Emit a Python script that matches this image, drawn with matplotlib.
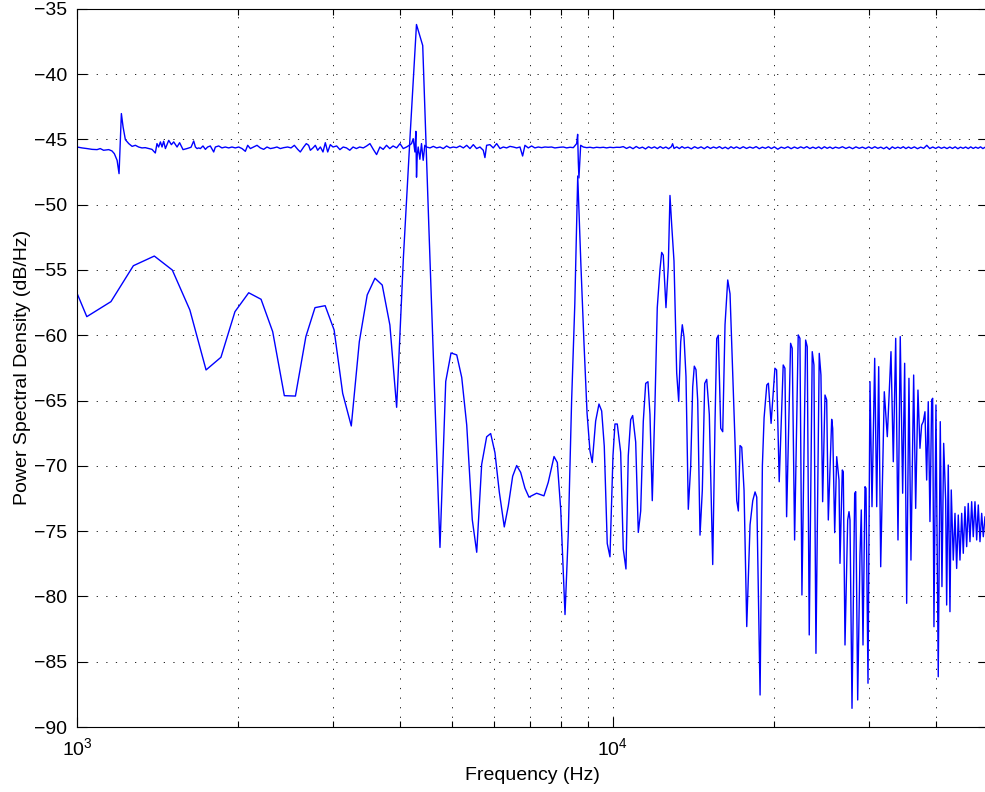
"""
PSD of test tone vs. noise floor, log frequency axis
Values read off the original figure
"""

import numpy as np
from matplotlib import pyplot as plt
from matplotlib.ticker import LogLocator, MultipleLocator, NullFormatter

# Tone spectrum (coarse FFT bins), Hz and dB/Hz
tone_freq_low = [
    926, 1043, 1157, 1274, 1394, 1506, 1624, 1741, 1856, 1971,
    2091, 2205, 2318, 2437, 2556, 2673, 2780, 2904, 3018, 3131,
    3249, 3363, 3479, 3597, 3711, 3835, 3948, 4065, 4182, 4299,
    4416, 4533, 4650, 4756, 4875, 4987, 5111, 5222, 5335, 5464,
    5569, 5689, 5812, 5913, 6023, 6136, 6269, 6378, 6499, 6612,
    6726, 6851, 6970, 7204, 7434, 7573, 7763, 7874, 7990, 8138,
    8254, 8371, 8488, 8595, 8712, 8829, 8946, 9058, 9148, 9283,
    9416, 9526, 9633, 9757, 9872,
]
tone_db_low = [
    -53.5, -58.58, -57.43, -54.68, -53.94, -55.01, -58.07, -62.66, -61.69, -58.20,
    -56.75, -57.25, -59.73, -64.63, -64.66, -60.11, -57.89, -57.74, -59.60, -64.45,
    -66.95, -60.50, -56.92, -55.64, -56.16, -59.22, -65.52, -54.0, -44.8, -36.21,
    -37.82, -51.6, -64.7, -76.25, -63.54, -61.36, -61.51, -63.24, -66.88, -74.13,
    -76.62, -69.89, -67.78, -67.53, -69.00, -72.00, -74.68, -73.08, -70.80, -69.98,
    -70.50, -71.71, -72.40, -72.10, -72.30, -71.26, -69.29, -69.75, -73.38, -81.39,
    -75.1, -65.1, -57.6, -47.81, -54.57, -60.6, -65.96, -68.84, -69.75, -66.57,
    -65.27, -65.80, -68.50, -75.95, -76.97,
]

tone_freq_mid = [
    10000, 10086, 10186, 10336, 10452, 10574, 10679, 10790, 10883, 11025,
    11149, 11265, 11391, 11509, 11622, 11723, 11839, 11977, 12096, 12237,
    12327, 12412, 12557, 12682, 12775, 12869, 12997, 13149, 13262, 13377,
    13469, 13568, 13685, 13821, 13964, 14085, 14182, 14286, 14391, 14534,
    14679, 14831, 14959, 15127, 15350, 15503, 15616, 15724, 15887, 16024,
    16183, 16372, 16535, 16728, 16894, 17018, 17136, 17261, 17388, 17561,
    17766, 18020, 18231, 18412, 18547, 18813, 19000, 19140, 19364, 19497,
    19725,
]
tone_db_mid = [
    -69.24, -66.80, -66.80, -68.97, -76.37, -77.90, -69.24, -66.47, -66.15, -68.18,
    -75.10, -73.46, -66.60, -63.69, -63.56, -66.07, -72.67, -65.27, -57.89, -54.98,
    -53.66, -53.87, -57.89, -54.72, -49.30, -51.55, -54.32, -62.90, -65.07, -60.52,
    -59.20, -60.13, -63.17, -73.33, -70.03, -63.96, -62.37, -62.64, -65.00, -75.31,
    -71.88, -63.69, -63.38, -66.07, -77.56, -66.60, -60.26, -60.00, -67.13, -67.39,
    -59.20, -55.77, -56.83, -62.90, -68.18, -72.67, -73.46, -68.45, -68.58, -71.88,
    -82.31, -74.52, -72.67, -72.00, -72.40, -87.55, -70.0, -66.33, -63.81, -63.68,
    -66.75,
]

tone_freq_high = [
    20052, 20198, 20425, 20779, 20932, 21085, 21450, 21598, 21822, 22163,
    22326, 22519, 22880, 23038, 23237, 23539, 23712, 23917, 24258, 24436,
    24615, 24865, 25047, 25221, 25590, 25700, 25923, 26148, 26406, 26520,
    26784, 26898, 27096, 27411, 27567, 27684, 27924, 28248, 28371, 28614,
    28899, 29061, 29274, 29526, 29655, 29910, 30168, 30429, 30783, 31050,
    31317, 31587, 32079, 32496, 33015, 33345, 33690, 34023, 34356, 34712,
    35012, 35316, 35664, 35972, 36392, 36708, 37072, 37392, 37664, 37924,
    38204, 38484, 38748, 39032, 39320, 39488, 39708, 40052, 40448, 40800,
    41096, 41400, 41756, 41936, 42224, 42536, 42772, 43144, 43464, 43776,
    44080, 44404, 44732, 45040, 45364, 45700, 46012, 46352, 46692, 47012,
    47360, 47708, 48040, 48392, 48744, 49084, 49440, 49800,
]
tone_db_high = [
    -62.53, -62.66, -71.22, -62.28, -62.53, -73.90, -60.62, -61.00, -75.68, -59.98,
    -60.24, -79.89, -60.37, -60.88, -82.95, -61.26, -62.28, -84.36, -61.39, -63.05,
    -72.75, -64.58, -64.96, -74.15, -66.44, -67.13, -75.12, -69.30, -71.09, -77.47,
    -70.32, -70.45, -83.72, -74.15, -73.51, -74.15, -88.57, -72.10, -71.98, -87.93,
    -76.83, -73.38, -83.72, -71.60, -71.72, -86.65, -63.56, -73.13, -61.77, -73.13,
    -62.41, -77.73, -64.33, -67.77, -61.26, -69.69, -60.24, -75.68, -60.11, -72.10,
    -62.15, -80.53, -63.30, -77.22, -63.05, -73.26, -64.20, -68.66, -66.88, -66.62,
    -65.86, -71.09, -65.09, -74.27, -64.96, -64.83, -82.32, -65.34, -86.15, -66.62,
    -79.25, -68.28, -72.62, -80.66, -69.94, -81.17, -71.85, -77.22, -73.64, -77.86,
    -73.77, -77.22, -73.64, -76.70, -73.13, -76.19, -72.88, -75.81, -72.75, -75.43,
    -72.75, -75.68, -73.00, -75.81, -73.64, -75.43, -73.90, -75.20,
]

# Noise floor (fine FFT bins)
noise_freq_low = [
    990, 1000, 1022, 1044, 1067, 1090, 1105, 1121, 1146, 1162,
    1174, 1188, 1198, 1210, 1219, 1231, 1249, 1267, 1285, 1303,
    1322, 1341, 1361, 1380, 1400, 1410, 1420, 1431, 1441, 1451,
    1462, 1483, 1500, 1515, 1537, 1554, 1577, 1604, 1632, 1651,
    1663, 1675, 1687, 1699, 1718, 1736, 1753, 1773, 1799, 1812,
    1838, 1864, 1891, 1919, 1946, 1974, 2003, 2032, 2061, 2082,
    2106, 2136, 2167, 2198, 2230, 2262, 2295, 2328, 2361, 2395,
    2430, 2472, 2508, 2544, 2581, 2610, 2648, 2678, 2705, 2725,
    2756, 2784, 2812, 2845, 2877, 2906, 2936, 2969, 3004, 3051,
]
noise_db_low = [
    -45.58, -45.59, -45.66, -45.71, -45.77, -45.79, -45.71, -45.84, -45.79, -45.89,
    -46.10, -46.61, -47.63, -43.03, -44.06, -45.03, -45.33, -45.54, -45.46, -45.59,
    -45.66, -45.64, -45.71, -45.77, -46.05, -45.33, -45.59, -45.20, -45.59, -45.15,
    -45.71, -45.08, -45.41, -45.20, -45.59, -45.26, -45.79, -45.71, -45.61, -45.13,
    -45.59, -45.71, -45.66, -45.71, -45.51, -45.77, -45.59, -45.51, -45.97, -45.59,
    -45.51, -45.66, -45.59, -45.66, -45.59, -45.66, -45.59, -45.71, -45.92, -45.46,
    -45.71, -45.59, -45.46, -45.66, -45.77, -45.59, -45.71, -45.66, -45.59, -45.71,
    -45.64, -45.59, -45.66, -45.46, -45.77, -45.97, -45.59, -45.33, -45.46, -45.84,
    -45.66, -45.46, -45.84, -45.59, -45.97, -45.26, -45.97, -45.41, -45.59, -45.51,
]

noise_freq_mid = [
    3094, 3138, 3183, 3228, 3274, 3321, 3368, 3421, 3471, 3520,
    3571, 3622, 3674, 3726, 3780, 3833, 3888, 3948, 4005, 4062,
    4120, 4167, 4209, 4239, 4270, 4288, 4300, 4313, 4331, 4362,
    4393, 4425, 4456, 4488, 4556, 4622, 4688, 4756, 4824, 4893,
    4964, 5035, 5107, 5181, 5258, 5334, 5410, 5488, 5567, 5647,
    5728, 5769, 5811, 5894, 5979, 6067, 6155, 6243, 6333, 6424,
    6517, 6611, 6706, 6783, 6851, 6950, 7050, 7151, 7255, 7359,
    7465, 7572, 7681, 7792, 7961, 8079, 8196, 8314, 8434, 8555,
    8592, 8617, 8640, 8704, 8804, 8931, 9060, 9190, 9322, 9457,
    9593, 9731, 9871, 10013, 10157, 10303,
]
noise_db_mid = [
    -45.79, -45.59, -45.66, -45.84, -45.59, -45.71, -45.59, -45.66, -45.51, -45.33,
    -45.77, -46.17, -45.59, -45.77, -45.46, -45.71, -45.51, -45.66, -45.33, -45.71,
    -45.59, -45.46, -45.33, -44.95, -45.97, -44.39, -47.90, -46.23, -45.59, -46.53,
    -45.33, -46.61, -45.46, -45.59, -45.66, -45.54, -45.66, -45.59, -45.71, -45.51,
    -45.66, -45.59, -45.64, -45.51, -45.66, -45.46, -45.71, -45.41, -45.71, -45.59,
    -45.84, -46.40, -45.46, -45.41, -45.66, -45.33, -45.71, -45.59, -45.66, -45.54,
    -45.59, -45.66, -45.59, -46.28, -45.46, -45.66, -45.51, -45.66, -45.59, -45.64,
    -45.59, -45.61, -45.59, -45.66, -45.61, -45.59, -45.66, -45.61, -45.64, -45.33,
    -44.62, -46.74, -47.96, -45.46, -45.59, -45.64, -45.61, -45.66, -45.61, -45.64,
    -45.61, -45.66, -45.61, -45.64, -45.61, -45.62,
]

noise_freq_high = [
    10450, 10600, 10750, 10900, 11050, 11200, 11350, 11500, 11650, 11800,
    11950, 12100, 12250, 12400, 12550, 12700, 12850, 12920, 13000, 13150,
    13300, 13450, 13600, 13800, 14000, 14200, 14400, 14600, 14800, 15000,
    15200, 15400, 15600, 15800, 16000, 16200, 16400, 16600, 16800, 17000,
    17250, 17500, 17750, 18000, 18250, 18500, 18750, 19000, 19250, 19500,
    19750, 20000, 20300, 20600, 20900, 21200, 21500, 21800, 22100, 22400,
    22700, 23000, 23300, 23600, 23900, 24200, 24500, 24800, 25100, 25400,
    25700, 26000, 26400, 26800, 27200, 27600, 28000, 28400, 28800, 29200,
    29600, 30000, 30400, 30800, 31200, 31600, 32000, 32400, 32800, 33200,
    33600, 34000, 34400, 34800, 35200, 35600, 36000, 36500, 37000, 37500,
    38000, 38500, 39000, 39500, 40000, 40500, 41000, 41500, 42000, 42500,
    43000, 43500, 44000, 44500, 45000, 45500, 46000, 46500, 47000, 47500,
    48000, 48500, 49000, 49500, 50000,
]
noise_db_high = [
    -45.56, -45.70, -45.58, -45.72, -45.55, -45.69, -45.60, -45.74, -45.57, -45.68,
    -45.58, -45.71, -45.56, -45.69, -45.59, -45.72, -45.57, -45.34, -45.70, -45.58,
    -45.71, -45.56, -45.68, -45.60, -45.73, -45.57, -45.69, -45.58, -45.72, -45.56,
    -45.70, -45.59, -45.68, -45.56, -45.71, -45.60, -45.73, -45.57, -45.69, -45.58,
    -45.71, -45.57, -45.70, -45.59, -45.68, -45.56, -45.72, -45.60, -45.69, -45.57,
    -45.71, -45.58, -45.76, -45.60, -45.69, -45.57, -45.72, -45.59, -45.70, -45.58,
    -45.68, -45.56, -45.71, -45.60, -45.70, -45.58, -45.72, -45.57, -45.69, -45.59,
    -45.71, -45.60, -45.68, -45.57, -45.70, -45.59, -45.72, -45.58, -45.69, -45.60,
    -45.71, -45.58, -45.70, -45.57, -45.69, -45.60, -45.72, -45.59, -45.77, -45.58,
    -45.70, -45.60, -45.69, -45.57, -45.71, -45.59, -45.70, -45.58, -45.72, -45.60,
    -45.69, -45.46, -45.71, -45.59, -45.70, -45.58, -45.69, -45.60, -45.71, -45.59,
    -45.70, -45.58, -45.72, -45.60, -45.69, -45.59, -45.71, -45.58, -45.70, -45.60,
    -45.69, -45.58, -45.71, -45.60, -45.66,
]

tone_freq = tone_freq_low + tone_freq_mid + tone_freq_high
tone_db = tone_db_low + tone_db_mid + tone_db_high
noise_freq = noise_freq_low + noise_freq_mid + noise_freq_high
noise_db = noise_db_low + noise_db_mid + noise_db_high

plt.rcParams["font.family"] = ["Liberation Sans", "DejaVu Sans"]

fig = plt.figure(figsize=(9.85, 7.92), dpi=100)
# right spine sits just past the image edge, as in the original export
ax = fig.add_axes([77 / 985, 65 / 792, 910.6 / 985, 718.3 / 792])

ax.semilogx(noise_freq, noise_db, color=(0, 0, 1), lw=1.0)
ax.semilogx(tone_freq, tone_db, color=(0, 0, 1), lw=1.0)

ax.set_xlim(1000, 50000)
ax.set_ylim(-90, -35)
ax.yaxis.set_major_locator(MultipleLocator(5))
ax.xaxis.set_major_locator(LogLocator(base=10))
ax.xaxis.set_minor_locator(LogLocator(base=10, subs=np.arange(2, 10)))
ax.xaxis.set_minor_formatter(NullFormatter())

dots = (0, (1.5, 10))
ax.grid(True, which="major", ls=dots, color="k", lw=0.6)
ax.grid(True, which="minor", axis="x", ls=dots, color="k", lw=0.6)

ax.tick_params(which="both", direction="in", top=True, right=True,
               labelsize=14, width=0.8)
ax.tick_params(which="major", length=7, pad=7)
ax.tick_params(which="minor", length=4)
for sp in ax.spines.values():
    sp.set_linewidth(0.8)

ax.set_xlabel("Frequency (Hz)", fontsize=14, labelpad=6)
ax.set_ylabel("Power Spectral Density (dB/Hz)", fontsize=14, labelpad=2)

fig.savefig("out.png", dpi=100)
